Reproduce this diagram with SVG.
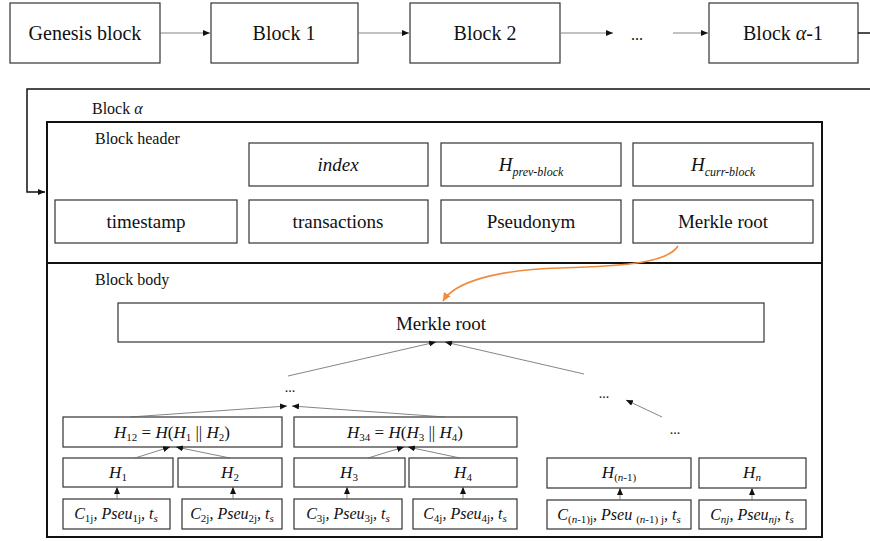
<svg xmlns="http://www.w3.org/2000/svg" width="870" height="541" viewBox="0 0 870 541">
<style>
.box{fill:#fff;stroke:#333;stroke-width:1.2}
.outer{fill:none;stroke:#111;stroke-width:2}
text{font-family:'Liberation Serif','DejaVu Serif','Times New Roman',serif;fill:#111}
.c{text-anchor:middle}
.i{font-style:italic}
.ln{fill:none;stroke:#666;stroke-width:0.8}
.lk{fill:none;stroke:#111;stroke-width:1.5}
.or{fill:none;stroke:#f08a3c;stroke-width:1.6}
</style>
<defs>
<marker id="ah" markerWidth="8" markerHeight="8" refX="7" refY="3" orient="auto" markerUnits="userSpaceOnUse">
<path d="M0,0 L7,3 L0,6 Z" fill="#111"/>
</marker>
<marker id="ao" markerWidth="10" markerHeight="10" refX="8" refY="4" orient="auto" markerUnits="userSpaceOnUse">
<path d="M0,0 L8,4 L0,8 Z" fill="#f08a3c"/>
</marker>
</defs>
<g font-family="Liberation Serif, DejaVu Serif, serif">
<!-- chain -->
<g id="genesis"><rect class="box" x="10" y="3" width="150" height="60"/><text class="c" x="85" y="40" font-size="20">Genesis block</text></g>
<g id="block1"><rect class="box" x="211" y="3" width="147" height="60"/><text class="c" x="284" y="40" font-size="20">Block 1</text></g>
<g id="block2"><rect class="box" x="410" y="3" width="150" height="60"/><text class="c" x="485" y="40" font-size="20">Block 2</text></g>
<g id="dots-top"><text class="c" x="637" y="40" font-size="16">...</text></g>
<g id="blockA1"><rect class="box" x="709" y="3" width="149" height="60"/><text class="c" x="783" y="40" font-size="20">Block <tspan class="i">α</tspan>-1</text></g>

<!-- block alpha -->
<g id="blockA-label"><text x="92" y="114" font-size="16">Block <tspan class="i">α</tspan></text></g>
<g id="header">
<rect class="outer" x="47" y="122" width="775" height="141"/>
<text x="95" y="144" font-size="16">Block header</text>
</g>
<g id="h-index"><rect class="box" x="249" y="143" width="179" height="43"/><text class="c i" x="338" y="171" font-size="19">index</text></g>
<g id="h-prev"><rect class="box" x="441" y="143" width="180" height="43"/><text class="c" x="531" y="171" font-size="19"><tspan class="i">H</tspan><tspan class="i" font-size="12" dy="5">prev-block</tspan></text></g>
<g id="h-curr"><rect class="box" x="633" y="143" width="180" height="43"/><text class="c" x="723" y="171" font-size="19"><tspan class="i">H</tspan><tspan class="i" font-size="12" dy="5">curr-block</tspan></text></g>
<g id="h-ts"><rect class="box" x="55" y="200" width="182" height="43"/><text class="c" x="146" y="228" font-size="19">timestamp</text></g>
<g id="h-tx"><rect class="box" x="249" y="200" width="179" height="43"/><text class="c" x="338" y="228" font-size="19">transactions</text></g>
<g id="h-pseu"><rect class="box" x="441" y="200" width="180" height="43"/><text class="c" x="531" y="228" font-size="19">Pseudonym</text></g>
<g id="h-mr"><rect class="box" x="633" y="200" width="180" height="43"/><text class="c" x="723" y="228" font-size="19">Merkle root</text></g>

<g id="body">
<rect class="outer" x="47" y="263" width="775" height="274"/>
<text x="95" y="285" font-size="16">Block body</text>
</g>
<g id="b-mr"><rect class="box" x="118" y="303" width="646" height="39"/><text class="c" x="441" y="330" font-size="19">Merkle root</text></g>
<g id="dots-l"><text class="c" x="290" y="392" font-size="14">...</text></g>
<g id="dots-r1"><text class="c" x="604" y="398" font-size="14">...</text></g>
<g id="dots-r2"><text class="c" x="675" y="434" font-size="14">...</text></g>

<g id="h12"><rect class="box" x="63" y="417" width="219" height="30"/><text class="c" x="172" y="438" font-size="17"><tspan class="i">H</tspan><tspan font-size="11" dy="3">12</tspan><tspan dy="-3"> = </tspan><tspan class="i">H</tspan>(<tspan class="i">H</tspan><tspan font-size="11" dy="3">1</tspan><tspan dy="-3"> || </tspan><tspan class="i">H</tspan><tspan font-size="11" dy="3">2</tspan><tspan dy="-3">)</tspan></text></g>
<g id="h34"><rect class="box" x="294" y="417" width="223" height="30"/><text class="c" x="405" y="438" font-size="17"><tspan class="i">H</tspan><tspan font-size="11" dy="3">34</tspan><tspan dy="-3"> = </tspan><tspan class="i">H</tspan>(<tspan class="i">H</tspan><tspan font-size="11" dy="3">3</tspan><tspan dy="-3"> || </tspan><tspan class="i">H</tspan><tspan font-size="11" dy="3">4</tspan><tspan dy="-3">)</tspan></text></g>

<g id="h1"><rect class="box" x="63" y="458" width="110" height="29"/><text class="c" x="118" y="478" font-size="17"><tspan class="i">H</tspan><tspan font-size="11" dy="3">1</tspan></text></g>
<g id="h2"><rect class="box" x="178" y="458" width="104" height="29"/><text class="c" x="230" y="478" font-size="17"><tspan class="i">H</tspan><tspan font-size="11" dy="3">2</tspan></text></g>
<g id="h3"><rect class="box" x="294" y="458" width="111" height="29"/><text class="c" x="349" y="478" font-size="17"><tspan class="i">H</tspan><tspan font-size="11" dy="3">3</tspan></text></g>
<g id="h4"><rect class="box" x="409" y="458" width="108" height="29"/><text class="c" x="463" y="478" font-size="17"><tspan class="i">H</tspan><tspan font-size="11" dy="3">4</tspan></text></g>
<g id="hn1"><rect class="box" x="547" y="458" width="144" height="30"/><text class="c" x="619" y="478" font-size="17"><tspan class="i">H</tspan><tspan font-size="11" dy="3">(<tspan class="i">n</tspan>-1)</tspan></text></g>
<g id="hn"><rect class="box" x="699" y="458" width="107" height="30"/><text class="c" x="752" y="478" font-size="17"><tspan class="i">H</tspan><tspan class="i" font-size="11" dy="3">n</tspan></text></g>

<g id="c1"><rect class="box" x="63" y="499" width="107" height="30"/><text class="c i" x="116" y="519" font-size="16">C<tspan font-size="11" dy="3" font-style="normal">1j</tspan><tspan dy="-3">, Pseu</tspan><tspan font-size="11" dy="3" font-style="normal">1j</tspan><tspan dy="-3">, t</tspan><tspan font-size="11" dy="3">s</tspan></text></g>
<g id="c2"><rect class="box" x="182" y="499" width="100" height="30"/><text class="c i" x="232" y="519" font-size="16">C<tspan font-size="11" dy="3" font-style="normal">2j</tspan><tspan dy="-3">, Pseu</tspan><tspan font-size="11" dy="3" font-style="normal">2j</tspan><tspan dy="-3">, t</tspan><tspan font-size="11" dy="3">s</tspan></text></g>
<g id="c3"><rect class="box" x="294" y="499" width="108" height="30"/><text class="c i" x="348" y="519" font-size="16">C<tspan font-size="11" dy="3" font-style="normal">3j</tspan><tspan dy="-3">, Pseu</tspan><tspan font-size="11" dy="3" font-style="normal">3j</tspan><tspan dy="-3">, t</tspan><tspan font-size="11" dy="3">s</tspan></text></g>
<g id="c4"><rect class="box" x="413" y="499" width="104" height="30"/><text class="c i" x="465" y="519" font-size="16">C<tspan font-size="11" dy="3" font-style="normal">4j</tspan><tspan dy="-3">, Pseu</tspan><tspan font-size="11" dy="3" font-style="normal">4j</tspan><tspan dy="-3">, t</tspan><tspan font-size="11" dy="3">s</tspan></text></g>
<g id="cn1"><rect class="box" x="547" y="500" width="144" height="29"/><text class="c i" x="619" y="520" font-size="16">C<tspan font-size="11" dy="3" font-style="normal">(<tspan class="i">n</tspan>-1)j</tspan><tspan dy="-3">, Pseu </tspan><tspan font-size="11" dy="3" font-style="normal">(<tspan class="i">n</tspan>-1) j</tspan><tspan dy="-3">, t</tspan><tspan font-size="11" dy="3">s</tspan></text></g>
<g id="cn"><rect class="box" x="699" y="500" width="107" height="29"/><text class="c i" x="752" y="520" font-size="16">C<tspan font-size="11" dy="3">nj</tspan><tspan dy="-3">, Pseu</tspan><tspan font-size="11" dy="3">nj</tspan><tspan dy="-3">, t</tspan><tspan font-size="11" dy="3">s</tspan></text></g>
</g>
<g id="connectors">
<line class="ln" x1="160" y1="33" x2="210" y2="33" marker-end="url(#ah)"/>
<line class="ln" x1="358" y1="33" x2="409" y2="33" marker-end="url(#ah)"/>
<line class="ln" x1="561" y1="33" x2="613" y2="33" marker-end="url(#ah)"/>
<line class="ln" x1="673" y1="33" x2="708" y2="33" marker-end="url(#ah)"/>
<line class="lk" x1="858" y1="33" x2="870" y2="33"/>
<polyline class="lk" points="870,89 27,89 27,192 45,192" marker-end="url(#ah)"/>
<path class="or" d="M678,246 C668,262 630,266 560,268 C495,270 455,282 443,301" marker-end="url(#ao)"/>
<line class="ln" x1="288" y1="376" x2="436" y2="342" marker-end="url(#ah)"/>
<line class="ln" x1="584" y1="374" x2="445" y2="342" marker-end="url(#ah)"/>
<line class="ln" x1="662" y1="417" x2="626" y2="400" marker-end="url(#ah)"/>
<line class="ln" x1="130" y1="417" x2="287" y2="406" marker-end="url(#ah)"/>
<line class="ln" x1="445" y1="417" x2="292" y2="406" marker-end="url(#ah)"/>
<line class="ln" x1="135" y1="458" x2="170" y2="447" marker-end="url(#ah)"/>
<line class="ln" x1="230" y1="458" x2="176" y2="447" marker-end="url(#ah)"/>
<line class="ln" x1="368" y1="458" x2="404" y2="447" marker-end="url(#ah)"/>
<line class="ln" x1="460" y1="458" x2="408" y2="447" marker-end="url(#ah)"/>
<line class="ln" x1="117" y1="499" x2="117" y2="487" marker-end="url(#ah)"/>
<line class="ln" x1="233" y1="499" x2="233" y2="487" marker-end="url(#ah)"/>
<line class="ln" x1="347" y1="499" x2="347" y2="487" marker-end="url(#ah)"/>
<line class="ln" x1="463" y1="499" x2="463" y2="487" marker-end="url(#ah)"/>
<line class="ln" x1="620" y1="500" x2="620" y2="488" marker-end="url(#ah)"/>
<line class="ln" x1="752" y1="500" x2="752" y2="488" marker-end="url(#ah)"/>
</g>
</svg>
